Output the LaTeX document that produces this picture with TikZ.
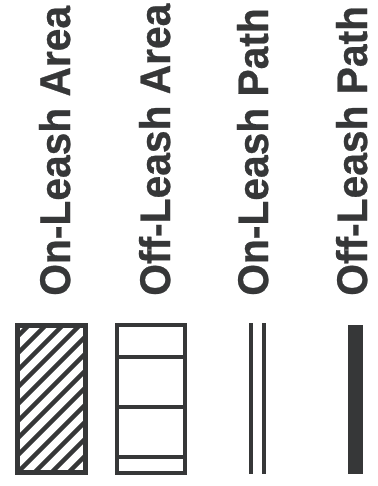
\documentclass[tikz,border=0pt]{standalone}
\usepackage{fontspec}
\setmainfont{Liberation Sans}
\newfontfamily\legendfont[FakeStretch=0.95,FakeBold=0.6]{Liberation Sans Bold}
\usepackage{xcolor}
\definecolor{ink}{HTML}{363738}

\begin{document}
\begin{tikzpicture}[x=0.025cm,y=0.025cm,
  lbl/.style={rotate=90,anchor=base west,inner sep=0pt,text=ink,
    font=\fontsize{30.5}{36}\legendfont},
  frame/.style={draw=ink,line width=3.4pt},
  rule/.style={draw=ink,line width=2.4pt}]
\useasboundingbox[fill=white] (0,0) rectangle (377,486);
% labels
\node[lbl] (onarea)  at (70,190)  {On-Leash Area};
\node[lbl] (offarea) at (170,190) {Off-Leash Area};
\node[lbl] (onpath)  at (268,190) {On-Leash Path};
\node[lbl] (offpath) at (367,190) {Off-Leash Path};
% on-leash area: hatched box
\begin{scope}
  \clip (17.5,13.5) rectangle (85.5,160.5);
  \foreach \k in {-10,...,10}
    \draw[rule,line width=3.2pt] (17.5+17*\k,13.5) -- ++(160,160);
\end{scope}
\draw[frame] (17.5,13.5) rectangle (85.5,160.5);
% off-leash area: split box
\draw[rule] (117,29) -- (185,29);
\draw[rule] (117,79) -- (185,79);
\draw[rule] (117,129) -- (185,129);
\draw[frame,line width=2.9pt] (117,13) rectangle (185,161);
% on-leash path: double line
\draw[rule,line width=2.8pt] (251,12) -- (251,163);
\draw[rule,line width=2.8pt] (264,12) -- (264,163);
% off-leash path: solid bar
\fill[ink] (348,12) rectangle (363,161);
\end{tikzpicture}
\end{document}
